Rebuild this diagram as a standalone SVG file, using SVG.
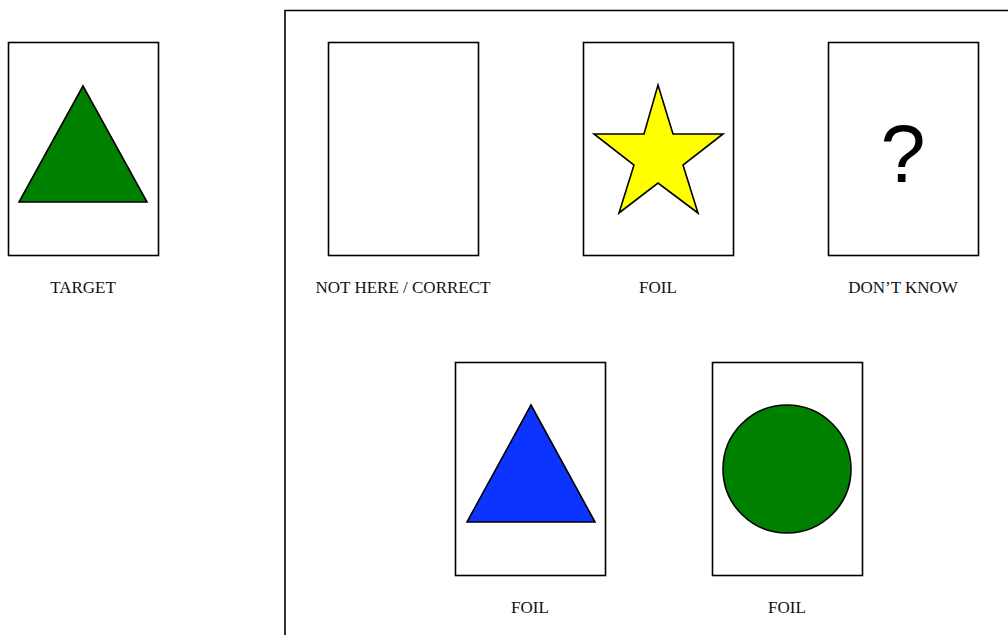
<svg xmlns="http://www.w3.org/2000/svg" width="1008" height="635" viewBox="0 0 1008 635">
<style>
.card{fill:#fff;stroke:#000;stroke-width:1.6}
.shape{stroke:#000;stroke-width:1.6;stroke-linejoin:miter}
.lbl{font-family:"Liberation Serif","Times New Roman",serif;font-size:17px;fill:#111;text-anchor:middle}
.q{font-family:"Liberation Sans",Arial,sans-serif;font-size:81px;fill:#000;text-anchor:middle}
</style>
<rect width="1008" height="635" fill="#fff"/>
<g id="frame"><path d="M285,635 V10.5 H1008" fill="none" stroke="#000" stroke-width="1.6"/></g>
<g id="target">
<rect class="card" x="8.5" y="42.5" width="150" height="213"/>
<polygon class="shape" points="83,86 19,202 147,202" fill="#008000"/>
<text class="lbl" x="83" y="293">TARGET</text>
</g>
<g id="not-here">
<rect class="card" x="328.5" y="42.5" width="150" height="213"/>
<text class="lbl" x="403" y="293">NOT HERE / CORRECT</text>
</g>
<g id="foil-star">
<rect class="card" x="583.5" y="42.5" width="150" height="213"/>
<polygon class="shape" points="658,85 673,134 723,134 683,165 698,213 658,183 619,213 634,165 594,134 644,134" fill="#ffff00"/>
<text class="lbl" x="658" y="293">FOIL</text>
</g>
<g id="dont-know">
<rect class="card" x="828.5" y="42.5" width="150" height="213"/>
<text class="q" x="903" y="182">?</text>
<text class="lbl" x="903" y="293">DON’T KNOW</text>
</g>
<g id="foil-blue-triangle">
<rect class="card" x="455.5" y="362.5" width="150" height="213"/>
<polygon class="shape" points="531,405 467,522 595,522" fill="#0d33ff"/>
<text class="lbl" x="530" y="613">FOIL</text>
</g>
<g id="foil-circle">
<rect class="card" x="712.5" y="362.5" width="150" height="213"/>
<circle class="shape" cx="787" cy="469" r="64" fill="#008000"/>
<text class="lbl" x="787" y="613">FOIL</text>
</g>
<g id="connectors"></g>
</svg>
